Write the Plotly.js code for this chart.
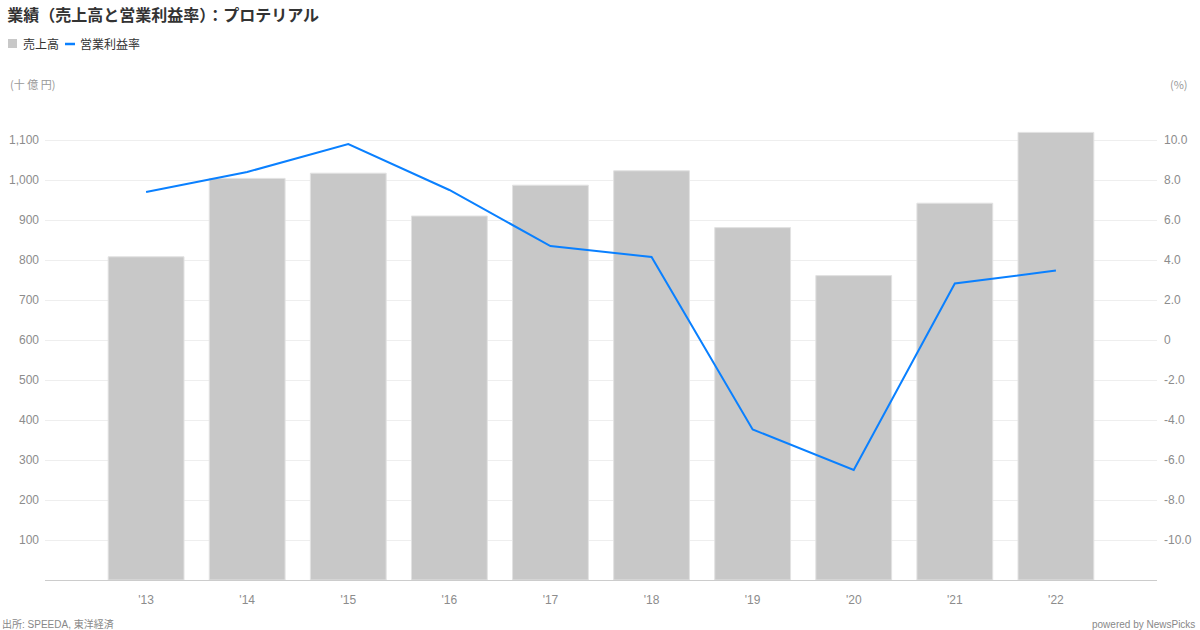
<!DOCTYPE html>
<html>
<head>
<meta charset="utf-8">
<script src="https://cdn.plot.ly/plotly-3.0.1.min.js"></script>
<style>html,body{margin:0;padding:0;background:#fff;}#chart{width:1200px;height:630px;}</style>
</head>
<body>
<div id="chart"></div>
<script>
const years = ["'13","'14","'15","'16","'17","'18","'19","'20","'21","'22"];
const sales = [808, 1004, 1017, 910, 987, 1023, 881, 761, 942, 1119];
const opMargin = [7.4, 8.4, 9.8, 7.5, 4.7, 4.15, -4.47, -6.5, 2.83, 3.47];
const leftTicks = [100,200,300,400,500,600,700,800,900,1000,1100];
const leftTickText = ["100","200","300","400","500","600","700","800","900","1,000","1,100"];
const rightTicks = [-10,-8,-6,-4,-2,0,2,4,6,8,10];
const rightTickText = ["-10.0","-8.0","-6.0","-4.0","-2.0","0","2.0","4.0","6.0","8.0","10.0"];
const seriesNames = ['売上高', '営業利益率'];
const barColor = '#c8c8c8';
const lineColor = '#0a80ff';

const font = "'Liberation Sans', Arial, 'Noto Sans CJK JP', sans-serif";
const xIdx = years.map((_, i) => i);

// plot area geometry (pixels) for converting page offsets to paper coords
const L = 45, R = 43, T = 100, B = 50, W = 1200, H = 630;
const PW = W - L - R, PH = H - T - B;
const px = v => (v - L) / PW;
const py = v => (H - B - v) / PH;

const traces = [
  {
    type: 'bar', name: seriesNames[0], x: xIdx, y: sales, width: 0.75,
    marker: {color: barColor, line: {color: '#e2e2e2', width: 1}},
    hoverinfo: 'skip', showlegend: false
  },
  {
    type: 'scatter', mode: 'lines', name: seriesNames[1], x: xIdx, y: opMargin, yaxis: 'y2',
    line: {color: lineColor, width: 2}, hoverinfo: 'skip', showlegend: false
  }
];

const layout = {
  width: W, height: H,
  margin: {l: L, r: R, t: T, b: B},
  paper_bgcolor: '#fff', plot_bgcolor: '#fff',
  font: {family: font, size: 12, color: '#8c8c8c'},
  title: {text: '業績（売上高と営業利益率）：プロテリアル', x: 0.006, xanchor: 'left', y: 0.975, yanchor: 'middle',
          font: {family: "'Noto Sans CJK JP', sans-serif", size: 16, color: '#333', weight: 'bold'}},
  showlegend: false,
  xaxis: {
    range: [-1, 10], tickvals: xIdx, ticktext: years, showgrid: false, zeroline: false,
    showline: true, linecolor: '#cccccc', linewidth: 1, ticks: '', tickfont: {size: 12, color: '#8c8c8c'},
    ticklabelstandoff: 9, fixedrange: true
  },
  yaxis: {
    range: [0, 1200], tickvals: leftTicks, ticktext: leftTickText, showgrid: true, gridcolor: '#eeeeee',
    zeroline: false, showline: false, ticks: '', tickfont: {size: 12, color: '#8c8c8c'}, ticklabelstandoff: 5,
    fixedrange: true
  },
  yaxis2: {
    range: [-12, 12], tickvals: rightTicks, ticktext: rightTickText, overlaying: 'y', side: 'right',
    showgrid: false, zeroline: false, showline: false, ticks: '', tickfont: {size: 12, color: '#8c8c8c'},
    ticklabelstandoff: 6, fixedrange: true
  },
  shapes: [
    {type: 'rect', xref: 'paper', yref: 'paper', x0: px(8), x1: px(17), y0: py(48), y1: py(39),
     fillcolor: barColor, line: {width: 0}},
    {type: 'line', xref: 'paper', yref: 'paper', x0: px(65), x1: px(75), y0: py(44), y1: py(44),
     line: {color: lineColor, width: 2.5}}
  ],
  annotations: [
    {text: seriesNames[0], xref: 'paper', yref: 'paper', x: px(21), y: py(44), xanchor: 'left', yanchor: 'middle', showarrow: false,
     font: {family: "'Noto Sans CJK JP', sans-serif", size: 12, color: '#333'}},
    {text: seriesNames[1], xref: 'paper', yref: 'paper', x: px(78), y: py(44), xanchor: 'left', yanchor: 'middle', showarrow: false,
     font: {family: "'Noto Sans CJK JP', sans-serif", size: 12, color: '#333'}},
    {text: '(十 億 円)', xref: 'paper', yref: 'paper', x: px(8), y: py(84), xanchor: 'left', yanchor: 'middle', showarrow: false,
     font: {family: "'Noto Sans CJK JP', sans-serif", size: 11, color: '#999'}},
    {text: '(%)', xref: 'paper', yref: 'paper', x: px(1190), y: py(84), xanchor: 'right', yanchor: 'middle', showarrow: false,
     font: {family: "'Noto Sans CJK JP', sans-serif", size: 11, color: '#999'}},
    {text: '出所: SPEEDA, 東洋経済', xref: 'paper', yref: 'paper', x: px(0), y: py(624), xanchor: 'left', yanchor: 'middle', showarrow: false,
     font: {family: "'Liberation Sans', 'Noto Sans CJK JP', sans-serif", size: 10, color: '#888'}},
    {text: 'powered by NewsPicks', xref: 'paper', yref: 'paper', x: px(1197), y: py(624), xanchor: 'right', yanchor: 'middle', showarrow: false,
     font: {size: 10, color: '#888'}}
  ]
};

Plotly.newPlot('chart', traces, layout, {displayModeBar: false, staticPlot: true});
</script>
</body>
</html>
